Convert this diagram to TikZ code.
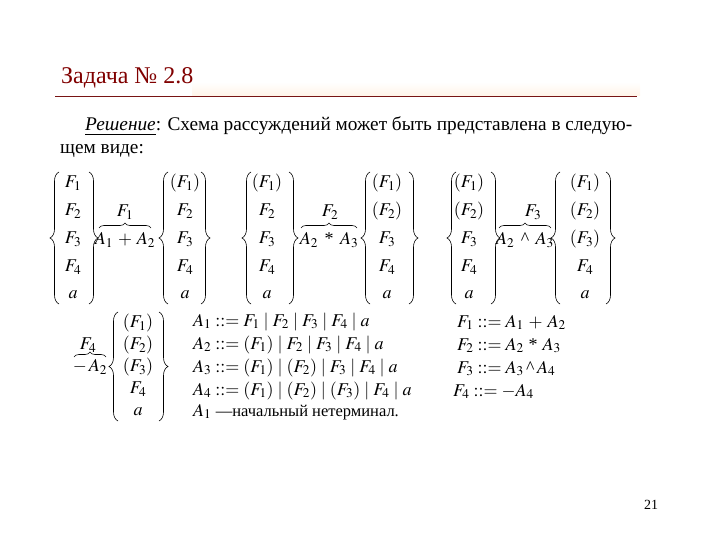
\documentclass[tikz,border=0pt]{standalone}
\usepackage{mathptmx}
\usepackage[no-math]{fontspec}
\setmainfont{Liberation Serif}
\usetikzlibrary{decorations.pathreplacing, positioning}
\definecolor{title_red}{RGB}{128, 0, 0}
\definecolor{rule_red}{RGB}{120, 20, 20}
\definecolor{title_cream}{RGB}{255, 244, 232}
\def \rel {\mathrel{{:}{:}{=}}}
\def \mul {\mathbin{\mbox{*}}}
\def \pw {\mathbin{\mbox{\textasciicircum}}}

\begin{document}
\begin{tikzpicture}[x=1pt, y=-1pt,
    % Entry of a column
    entry/.style={
        font=\fontsize{18}{22}\selectfont,
        inner sep=1pt
    },
    % Curly brace round a column
    colbrace/.style={
        decorate,
        decoration={brace, amplitude=9pt},
        line width=0.6pt
    },
    % Brace over a rule
    topbrace/.style={
        decorate,
        decoration={brace, amplitude=5pt},
        line width=0.6pt
    },
    % Grammar line
    rule/.style={
        anchor=base west,
        inner sep=0pt,
        font=\fontsize{18}{20}\selectfont
    },
    % Running text
    body/.style={
        anchor=base west,
        inner sep=0pt,
        font=\fontsize{19.3}{23}\selectfont
    }
]
\useasboundingbox (0,0) rectangle (720,540);

% Title
\shade[top color=white, bottom color=title_cream] (192,82) rectangle (640,96);
\node[body, text=title_red, font=\fontsize{24}{28}\selectfont] (title) at (61,84) {Задача № 2.8};
\draw[rule_red, line width=1pt] (55,97) -- (637,97);

\node[body] (sol1) at (85,131) {\underline{\textit{Решение}}: Схема рассуждений может быть представлена в следую-};
\node[body] (sol2) at (60,154) {щем виде:};

% First rule
\foreach \i/\y/\t in {1/183/F_1, 2/211/F_2, 3/239/F_3, 4/267/F_4, 5/295/a}
    \node[entry] (c1-\i) at (73,\y) {$\t$};
\draw[colbrace] (59,304) -- (59,172);
\draw[colbrace] (89,172) -- (89,304);

\node[entry] (op1) at (125,240) {$A_1 \:+\: A_2$};
\draw[topbrace] (99,228) -- (151,228);
\node[entry] (lab1) at (125,212) {$F_1$};

\foreach \i/\y/\t in {1/183/{(F_1)}, 2/211/F_2, 3/239/F_3, 4/267/F_4, 5/295/a}
    \node[entry] (c2-\i) at (185,\y) {$\t$};
\draw[colbrace] (168,304) -- (168,172);
\draw[colbrace] (201,172) -- (201,304);

% Second rule
\foreach \i/\y/\t in {1/183/{(F_1)}, 2/211/F_2, 3/239/F_3, 4/267/F_4, 5/295/a}
    \node[entry] (c3-\i) at (267,\y) {$\t$};
\draw[colbrace] (251,304) -- (251,172);
\draw[colbrace] (289,172) -- (289,304);

\node[entry] (op2) at (329,240) {$A_2 \;\mul\; A_3$};
\draw[topbrace] (301,228) -- (357,228);
\node[entry] (lab2) at (330,212) {$F_2$};

\foreach \i/\y/\t in {1/183/{(F_1)}, 2/211/{(F_2)}, 3/239/F_3, 4/267/F_4, 5/295/a}
    \node[entry] (c4-\i) at (387,\y) {$\t$};
\draw[colbrace] (370,304) -- (370,172);
\draw[colbrace] (409,172) -- (409,304);

% Third rule
\foreach \i/\y/\t in {1/183/{(F_1)}, 2/211/{(F_2)}, 3/239/F_3, 4/267/F_4, 5/295/a}
    \node[entry] (c5-\i) at (469,\y) {$\t$};
\draw[colbrace] (456,304) -- (456,172);
\draw[colbrace] (491,172) -- (491,304);

\node[entry] (op3) at (525,240) {$A_2 \;\pw\; A_3$};
\draw[topbrace] (499,228) -- (551,228);
\node[entry] (lab3) at (533,212) {$F_3$};

\foreach \i/\y/\t in {1/183/{(F_1)}, 2/211/{(F_2)}, 3/239/{(F_3)}, 4/267/F_4, 5/295/a}
    \node[entry] (c6-\i) at (585,\y) {$\t$};
\draw[colbrace] (560,304) -- (560,172);
\draw[colbrace] (606,172) -- (606,304);

% Fourth rule
\node[entry] (op4) at (90,367) {$-\,A_2$};
\draw[topbrace] (74,357) -- (106,357);
\node[entry] (lab4) at (88,345) {$F_4$};

\foreach \i/\y/\t in {1/323/{(F_1)}, 2/345/{(F_2)}, 3/367/{(F_3)}, 4/389/F_4, 5/412/a}
    \node[entry] (c7-\i) at (138,\y) {$\t$};
\draw[colbrace] (118,421) -- (118,312);
\draw[colbrace] (159,312) -- (159,421);

% Grammar
\node[rule] (g1) at (193,326) {$A_1 \rel F_1 \mid F_2 \mid F_3 \mid F_4 \mid a$};
\node[rule] (g2) at (193,349) {$A_2 \rel (F_1) \mid F_2 \mid F_3 \mid F_4 \mid a$};
\node[rule] (g3) at (193,372) {$A_3 \rel (F_1) \mid (F_2) \mid F_3 \mid F_4 \mid a$};
\node[rule] (g4) at (193,395) {$A_4 \rel (F_1) \mid (F_2) \mid (F_3) \mid F_4 \mid a$};
\node[rule] (g5) at (193,416) {$A_1$ {\fontsize{16.5}{18}\selectfont ---начальный нетерминал.}};

\node[rule] (h1) at (457,327) {$F_1 \rel A_1 \:+\: A_2$};
\node[rule] (h2) at (457,350) {$F_2 \rel A_2 \:\mul\: A_3$};
\node[rule] (h3) at (457,373) {$F_3 \rel A_3 \pw A_4$};
\node[rule] (h4) at (453,396) {$F_4 \rel -A_4$};

% Page number
\node[font=\fontsize{14}{16}\selectfont] (page) at (651,505) {21};

\end{tikzpicture}
\end{document}
